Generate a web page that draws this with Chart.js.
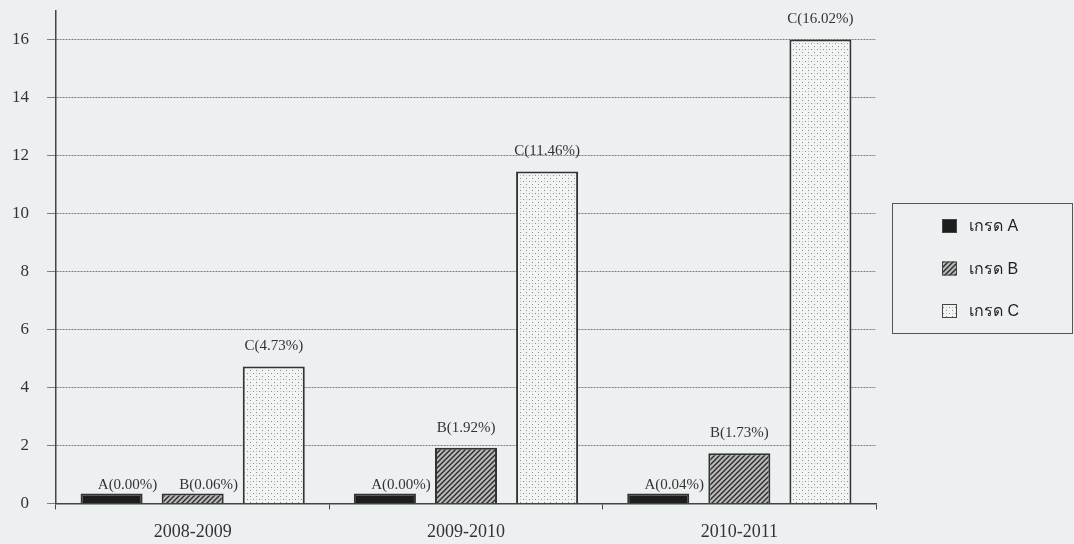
<!DOCTYPE html>
<html>
<head>
<meta charset="utf-8">
<script src="https://cdn.jsdelivr.net/npm/chart.js@4"></script>
<style>
body { margin: 0; background: #edf0f1; overflow: hidden; }
#wrap { width: 1074px; height: 544px; position: relative; }
</style>
</head>
<body>
<div id="wrap"><canvas id="chart" width="1074" height="544"></canvas></div>
<script>
var years = ["2008-2009", "2009-2010", "2010-2011"];
var grade_names = ["เกรด A", "เกรด B", "เกรด C"];
var grade_letters = ["A", "B", "C"];
var grade_a = [0.00, 0.00, 0.04];
var grade_b = [0.06, 1.92, 1.73];
var grade_c = [4.73, 11.46, 16.02];
var y_ticks = [0, 2, 4, 6, 8, 10, 12, 14, 16];

var serif = "'Liberation Serif', 'DejaVu Serif', serif";

// fill patterns that look like the printed ones
function makePattern(kind) {
    var c = document.createElement('canvas');
    var x = c.getContext('2d');
    if (kind == 'solid') {
        c.width = c.height = 4;
        x.fillStyle = '#1d1d1d';
        x.fillRect(0, 0, 4, 4);
    } else if (kind == 'hatch') {
        c.width = c.height = 5;
        x.fillStyle = '#b9b9b9';
        x.fillRect(0, 0, 5, 5);
        x.strokeStyle = '#2a2a2a';
        x.lineWidth = 1.4;
        x.beginPath();
        x.moveTo(-1, 6); x.lineTo(6, -1);
        x.moveTo(-3, 3); x.lineTo(3, -3);
        x.moveTo(2, 8); x.lineTo(8, 2);
        x.stroke();
    } else {
        c.width = c.height = 6;
        x.fillStyle = '#f2f3f3';
        x.fillRect(0, 0, 6, 6);
        x.fillStyle = '#8c8c8c';
        x.fillRect(1, 1, 1, 1);
        x.fillRect(4, 4, 1, 1);
        x.fillStyle = '#c0c0c0';
        x.fillRect(4, 1, 1, 1);
    }
    return x.createPattern(c, 'repeat');
}

var fills = [makePattern('solid'), makePattern('hatch'), makePattern('dots')];

var barLabels = {
    id: 'barLabels',
    afterDatasetsDraw: function (chart) {
        var ctx = chart.ctx;
        ctx.save();
        ctx.font = "15px " + serif;
        ctx.fillStyle = '#333';
        ctx.textAlign = 'center';
        ctx.textBaseline = 'alphabetic';
        chart.data.datasets.forEach(function (ds, i) {
            chart.getDatasetMeta(i).data.forEach(function (bar, j) {
                var v = ds.data[j];
                var txt = grade_letters[i] + "(" + v.toFixed(2) + "%)";
                // tiny bars get their label nudged right and kept low, as in print
                if (v < 0.5) {
                    ctx.fillText(txt, bar.x + 16, bar.y - 4);
                } else {
                    ctx.fillText(txt, bar.x, bar.y - 16);
                }
            });
        });
        ctx.restore();
    }
};

var boxLegend = {
    id: 'boxLegend',
    afterDraw: function (chart) {
        var ctx = chart.ctx;
        ctx.save();
        ctx.strokeStyle = '#555';
        ctx.lineWidth = 1;
        ctx.strokeRect(892.5, 203.5, 180, 130);
        ctx.font = "16px 'Liberation Sans', 'DejaVu Sans', sans-serif";
        ctx.textBaseline = 'middle';
        chart.data.datasets.forEach(function (ds, i) {
            var yy = 226 + i * 42.5;
            ctx.fillStyle = ds.backgroundColor;
            ctx.fillRect(942, yy - 7, 15, 14);
            ctx.strokeStyle = '#444';
            ctx.strokeRect(942.5, yy - 6.5, 14, 13);
            ctx.fillStyle = '#222';
            ctx.fillText(ds.label, 969, yy + 1);
        });
        ctx.restore();
    }
};

var myChart = new Chart(document.getElementById("chart"), {
    type: 'bar',
    data: {
        labels: years,
        datasets: [
            { label: grade_names[0], data: grade_a, backgroundColor: fills[0] },
            { label: grade_names[1], data: grade_b, backgroundColor: fills[1] },
            { label: grade_names[2], data: grade_c, backgroundColor: fills[2] }
        ]
    },
    options: {
        responsive: false,
        animation: false,
        layout: { autoPadding: false, padding: { left: -6, right: 198, top: 11, bottom: -11 } },
        datasets: {
            bar: {
                borderColor: '#333',
                borderWidth: 2,
                minBarLength: 10,
                categoryPercentage: 0.89,
                barPercentage: 0.765
            }
        },
        plugins: {
            legend: { display: false },
            tooltip: { enabled: false }
        },
        scales: {
            x: {
                grid: { drawOnChartArea: false, tickLength: 6, color: '#444' },
                border: { color: '#444', width: 1.5 },
                ticks: { font: { family: serif, size: 18 }, color: '#333', padding: 12 }
            },
            y: {
                min: 0,
                max: 17,
                afterBuildTicks: function (scale) {
                    scale.ticks = y_ticks.map(function (v) { return { value: v }; });
                },
                // the top tick is 16, not 17, so no room is needed above the axis
                afterFit: function (scale) {
                    scale.paddingTop = 0;
                },
                grid: { color: '#7c7c7c', lineWidth: 1, tickLength: 9 },
                border: { color: '#444', width: 1.5, dash: [2, 1] },
                ticks: { font: { family: serif, size: 17 }, color: '#333', padding: 18 }
            }
        }
    },
    plugins: [barLabels, boxLegend]
});
</script>
</body>
</html>
